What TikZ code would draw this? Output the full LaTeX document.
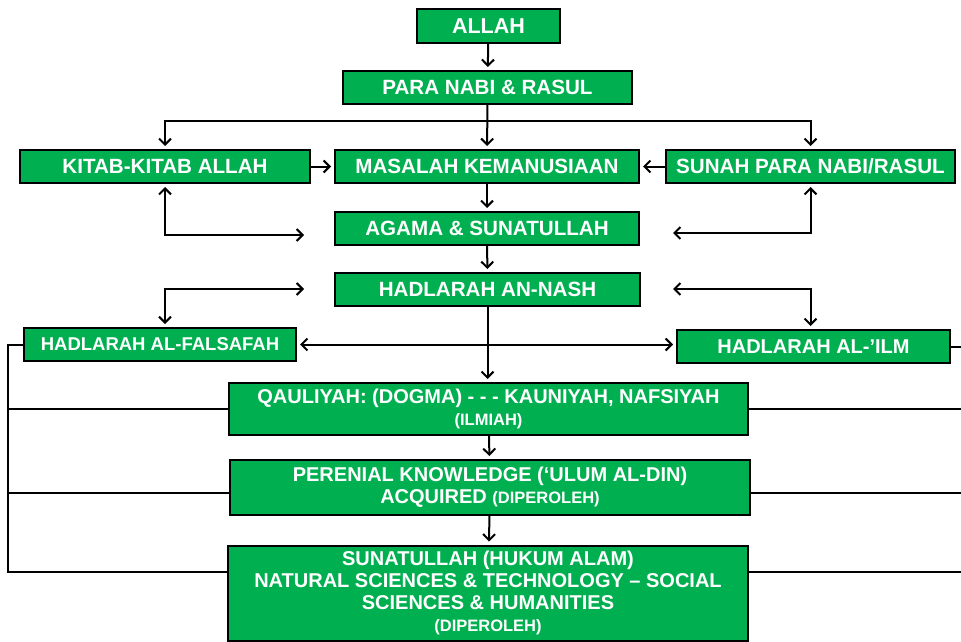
\documentclass[tikz,border=0pt]{standalone}
\usepackage{fontspec}
\setmainfont{Liberation Sans}
\usetikzlibrary{arrows.meta}
\definecolor{boxgreen}{RGB}{0,176,80}
\newcommand{\smalltag}[1]{{\fontsize{16.5}{22}\selectfont #1}}
\tikzset{
  gbox/.style={draw=black, line width=2pt, fill=boxgreen, text=white,
    font=\fontsize{20.6}{22}\selectfont\bfseries, align=center,
    inner sep=0pt, minimum height=33pt},
  lowbox/.style={gbox, font=\fontsize{20}{22}\selectfont\bfseries},
  arr/.style={line width=2pt, -{Straight Barb[length=6pt,width=12pt]}, shorten >=3pt},
  arrs/.style={line width=2pt,
    {Straight Barb[length=6pt,width=12pt]}-{Straight Barb[length=6pt,width=12pt]},
    shorten >=3pt, shorten <=3pt},
  bus/.style={line width=2pt}
}
\begin{document}
\begin{tikzpicture}[x=1pt,y=-1pt]
  \useasboundingbox (0,0) rectangle (961,642);

  % Top chain
  \node[gbox, minimum width=143pt, minimum height=34pt, font=\fontsize{21.5}{22}\selectfont\bfseries] (allah) at (488.5,26) {ALLAH};
  \node[gbox, minimum width=289pt] (nabi) at (487.5,87.5) {PARA NABI \& RASUL};

  % Second row
  \node[gbox, minimum width=290pt] (kitab) at (165,166.5) {KITAB-KITAB ALLAH};
  \node[gbox, minimum width=304pt] (masalah) at (487,166.5) {MASALAH KEMANUSIAAN};
  \node[gbox, minimum width=289pt] (sunah) at (810.5,166.5) {SUNAH PARA NABI/RASUL};

  % Middle column
  \node[gbox, minimum width=304pt] (agama) at (487,228.5) {AGAMA \& SUNATULLAH};
  \node[gbox, minimum width=305pt] (nash) at (487.5,289.5) {HADLARAH AN-NASH};

  % Side boxes
  \node[gbox, minimum width=272pt, font=\fontsize{18.5}{20}\selectfont\bfseries] (falsafah) at (160,344.5) {HADLARAH AL-FALSAFAH};
  \node[lowbox, minimum width=273pt] (ilm) at (813.5,346.5) {HADLARAH AL-’ILM};

  % Lower boxes
  \node[lowbox, minimum width=519pt, minimum height=52pt] (qauliyah) at (488.5,409)
    {QAULIYAH: (DOGMA) - - - KAUNIYAH, NAFSIYAH\\ \smalltag{(ILMIAH)}};
  \node[lowbox, minimum width=520pt, minimum height=55pt] (perenial) at (490,487.5)
    {PERENIAL KNOWLEDGE (‘ULUM AL-DIN)\\ ACQUIRED \smalltag{(DIPEROLEH)}};
  \node[lowbox, minimum width=520pt, minimum height=95pt] (sunat) at (488,593)
    {SUNATULLAH (HUKUM ALAM)\\ NATURAL SCIENCES \& TECHNOLOGY \textendash{} SOCIAL\\
     SCIENCES \& HUMANITIES\\ \smalltag{(DIPEROLEH)}};

  % Free ends
  \coordinate (split) at (487,121);
  \coordinate (agL) at (307,235);
  \coordinate (agR) at (670,233);
  \coordinate (naL) at (307,289);
  \coordinate (naR) at (670,289);
  \coordinate (busL) at (8,0);
  \coordinate (busR) at (961,0);
  \coordinate (perW) at ([yshift=-5pt]perenial.west);
  \coordinate (perE) at ([yshift=-5pt]perenial.east);
  \coordinate (sunW) at ([yshift=21pt]sunat.west);
  \coordinate (sunE) at ([yshift=21pt]sunat.east);

  % Downward flow
  \draw[arr] (allah) -- (nabi);
  \draw[arr] (nabi) -- (masalah);
  \draw[arr] (split) -| (kitab.north);
  \draw[arr] (split) -| (sunah.north);
  \draw[arr] (kitab) -- (masalah);
  \draw[arr] (sunah) -- (masalah);
  \draw[arr] (masalah) -- (agama);
  \draw[arr] (agama) -- (nash);
  \draw[arr] (nash) -- (nash |- qauliyah.north);
  \draw[arr] (qauliyah) -- (perenial);
  \draw[arr] (perenial) -- (sunat);

  % Two-way links
  \draw[arrs] (kitab.south) |- (agL);
  \draw[arrs] (sunah.south) |- (agR);
  \draw[arrs] (naL) -| (kitab |- falsafah.north);
  \draw[arrs] (naR) -| (sunah |- ilm.north);
  \draw[arrs] (falsafah.east) -- (ilm.west |- falsafah.east);

  % Side buses
  \draw[bus] (falsafah.west) -| (busL |- sunW) -- (sunW);
  \draw[bus] (busL |- qauliyah.west) -- (qauliyah.west);
  \draw[bus] (busL |- perW) -- (perW);
  \draw[bus] (ilm.east) -- (busR |- ilm.east);
  \draw[bus] (qauliyah.east) -- (busR |- qauliyah.east);
  \draw[bus] (perE) -- (busR |- perE);
  \draw[bus] (sunE) -- (busR |- sunE);
\end{tikzpicture}
\end{document}
